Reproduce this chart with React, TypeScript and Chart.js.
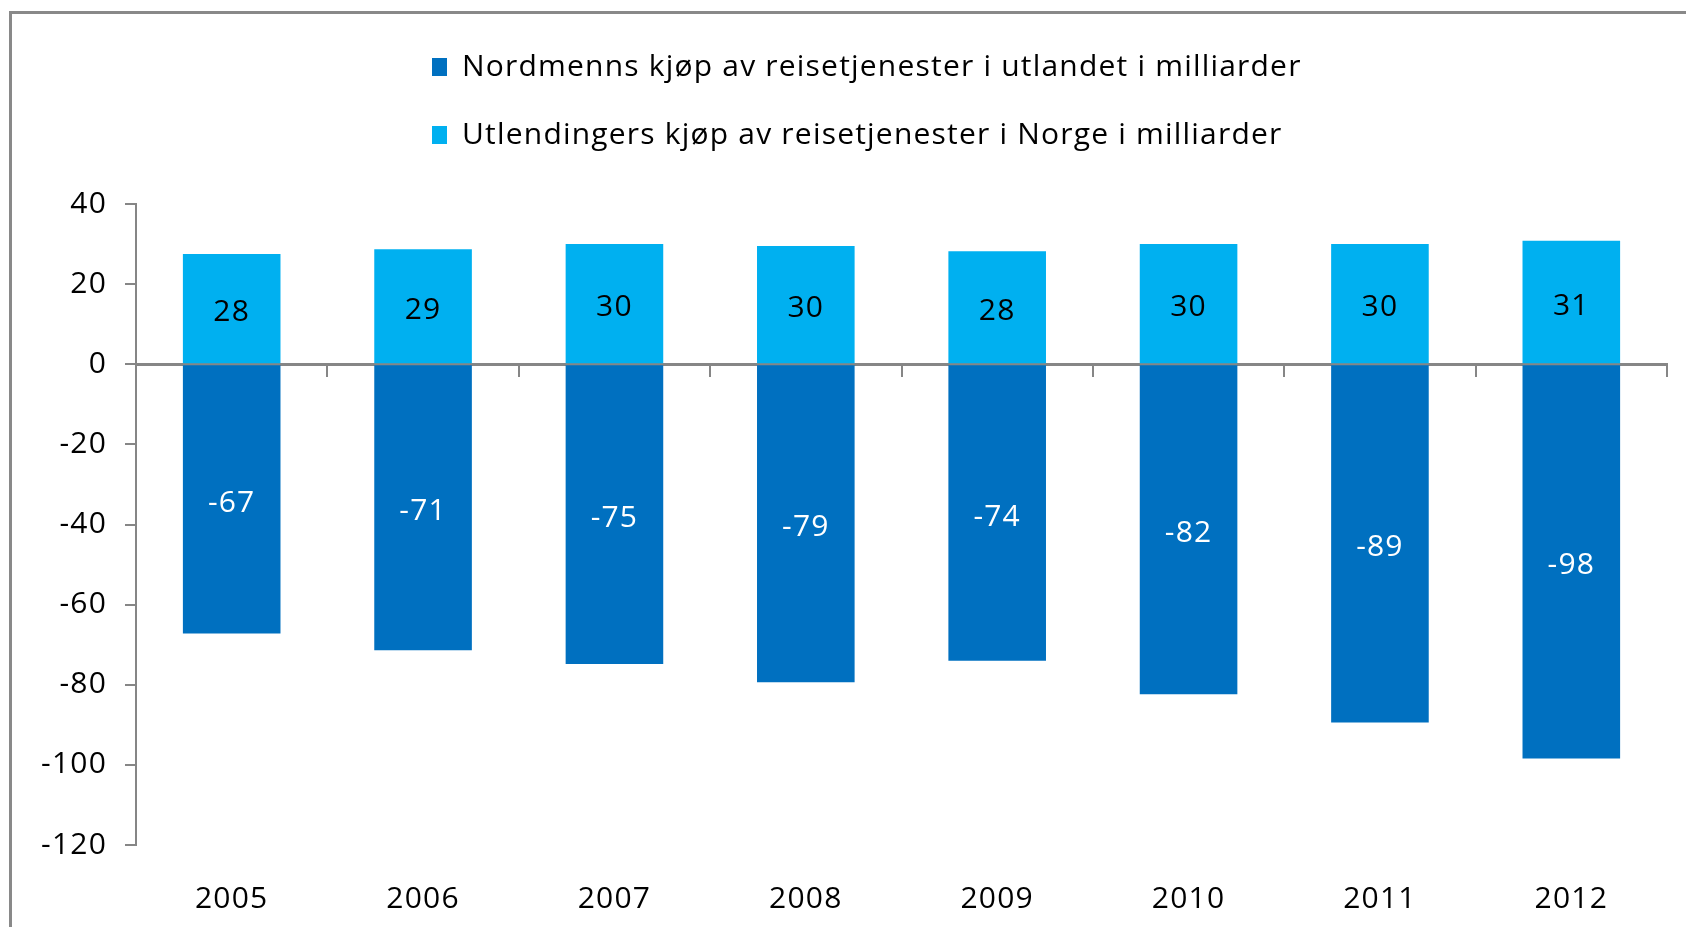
import React, { useEffect, useRef } from 'react';
import { Chart, registerables } from 'chart.js';

Chart.register(...registerables);

const years = ['2005', '2006', '2007', '2008', '2009', '2010', '2011', '2012'];
const norwegiansAbroad = [-67.2, -71.4, -74.8, -79.4, -74.0, -82.4, -89.4, -98.4];
const foreignersInNorway = [27.5, 28.7, 30.0, 29.5, 28.2, 30.0, 30.0, 30.8];
const seriesNames = [
  'Nordmenns kjøp av reisetjenester i utlandet i milliarder',
  'Utlendingers kjøp av reisetjenester i Norge i milliarder',
];
const seriesColors = ['#0070C0', '#00B0F0'];
const labelColors = ['#FFFFFF', '#000000'];
const yMin = -120;
const yMax = 40;
const yStep = 20;

const FONT = '"Open Sans"';
const AXIS_GRAY = '#868686';
const LETTER_SPACING = '1.2px';
const LEGEND_LEFT = 386;

const textSpacing = {
  id: 'textSpacing',
  beforeUpdate(chart: any) {
    chart.ctx.letterSpacing = LETTER_SPACING;
  },
  afterLayout(chart: any) {
    if (chart.legend) chart.legend.left = LEGEND_LEFT;
  },
  beforeDraw(chart: any) {
    chart.ctx.letterSpacing = LETTER_SPACING;
  },
};

const valueLabels = {
  id: 'valueLabels',
  afterDatasetsDraw(chart: any) {
    const ctx = chart.ctx;
    ctx.save();
    ctx.letterSpacing = LETTER_SPACING;
    ctx.font = `30px ${FONT}`;
    ctx.textAlign = 'center';
    ctx.textBaseline = 'middle';
    chart.data.datasets.forEach((ds: any, di: number) => {
      const meta = chart.getDatasetMeta(di);
      meta.data.forEach((el: any, i: number) => {
        const { x, y, base } = el.getProps(['x', 'y', 'base'], true);
        ctx.fillStyle = labelColors[di];
        ctx.fillText(String(Math.round(ds.data[i])), x, (y + base) / 2 + 4);
      });
    });
    ctx.restore();
  },
};

export default function App() {
  const canvasRef = useRef<HTMLCanvasElement>(null);

  useEffect(() => {
    if (!canvasRef.current) return;
    const chart = new Chart(canvasRef.current, {
      type: 'bar',
      data: {
        labels: years,
        datasets: [
          {
            label: seriesNames[0],
            data: norwegiansAbroad,
            backgroundColor: seriesColors[0],
            categoryPercentage: 1,
            barPercentage: 0.51,
          },
          {
            label: seriesNames[1],
            data: foreignersInNorway,
            backgroundColor: seriesColors[1],
            categoryPercentage: 1,
            barPercentage: 0.51,
          },
        ],
      },
      options: {
        animation: false,
        responsive: false,
        maintainAspectRatio: false,
        layout: { padding: { left: 0, right: 27, top: 6, bottom: 20 } },
        plugins: {
          tooltip: { enabled: false },
          legend: {
            display: true,
            position: 'top',
            align: 'start',
            labels: {
              font: { family: FONT, size: 30 },
              color: '#000000',
              boxWidth: 15,
              boxHeight: 18,
              padding: 38,
            },
          },
          subtitle: {
            display: true,
            text: '',
            position: 'top',
            weight: 500,
            font: { size: 10 },
            padding: { top: 0, bottom: 32 },
          },
        },
        scales: {
          x: {
            stacked: true,
            position: 'bottom',
            grid: { display: false, drawTicks: false },
            border: { display: false },
            ticks: {
              font: { family: FONT, size: 30 },
              color: '#000000',
              padding: 36,
            },
            afterFit: (scale: any) => {
              scale.height = 70;
            },
          },
          xZero: {
            type: 'category',
            position: { y: 0 },
            offset: true,
            grid: {
              display: true,
              offset: true,
              drawOnChartArea: false,
              drawTicks: true,
              tickLength: 11,
              color: AXIS_GRAY,
              lineWidth: 2,
            },
            border: { display: true, color: AXIS_GRAY, width: 3 },
            ticks: { display: false },
          },
          y: {
            stacked: true,
            min: yMin,
            max: yMax,
            ticks: {
              stepSize: yStep,
              font: { family: FONT, size: 30 },
              color: '#000000',
              padding: 18,
            },
            grid: {
              display: true,
              drawOnChartArea: false,
              drawTicks: true,
              tickLength: 11,
              color: AXIS_GRAY,
              lineWidth: 2,
            },
            border: { display: true, color: AXIS_GRAY, width: 2 },
            afterFit: (scale: any) => {
              scale.width = 128;
            },
          },
        },
      } as any,
      plugins: [textSpacing, valueLabels],
    });
    return () => chart.destroy();
  }, []);

  return (
    <div
      style={{
        position: 'relative',
        marginRight: -8,
        marginBottom: -8,
        height: 927,
        overflow: 'hidden',
        background: '#ffffff',
      }}
    >
      <div
        style={{
          position: 'absolute',
          left: 1,
          top: 3,
          width: 1760,
          height: 1000,
          border: '3px solid #898989',
          boxSizing: 'border-box',
        }}
      />
      <canvas
        ref={canvasRef}
        width={1686}
        height={927}
        style={{ position: 'absolute', left: 0, top: 0, width: 1686, height: 927 }}
      />
    </div>
  );
}
